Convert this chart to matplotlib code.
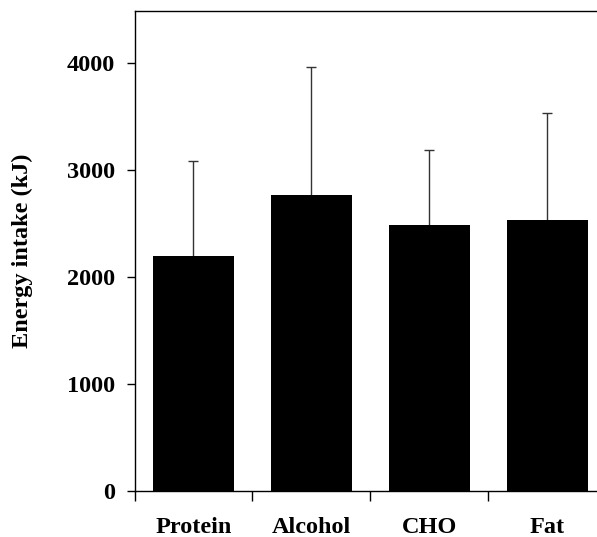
import matplotlib.pyplot as plt
import numpy as np

# mean energy intake per macronutrient condition, with upper SD
categories = ["Protein", "Alcohol", "CHO", "Fat"]
mean_kj = [2200, 2770, 2490, 2535]
upper_kj = [3090, 3965, 3190, 3540]
sd_kj = [u - m for u, m in zip(upper_kj, mean_kj)]
y_ticks = [0, 1000, 2000, 3000, 4000]

plt.rcParams["font.family"] = ["Liberation Serif", "DejaVu Serif"]
plt.rcParams["font.weight"] = "bold"

fig = plt.figure(figsize=(5.97, 5.37), dpi=100)
ax = fig.add_axes([0.2253, 0.0862, 0.7747, 0.8933])

x = np.arange(len(categories))

# bars first, then only the upper half of each error bar
ax.bar(x, mean_kj, width=0.68, color="black", zorder=2)
eb = ax.errorbar(x, mean_kj, yerr=[np.zeros(len(sd_kj)), sd_kj], fmt="none",
                 ecolor="#333333", elinewidth=1.0, capsize=3.3, capthick=1.0, zorder=1)
eb[1][0].set_visible(False)  # no cap on the zero-length lower side

ax.set_xlim(-0.496, 3.42)
ax.set_ylim(0, 4490)

ax.set_yticks(y_ticks)
ax.set_yticklabels([str(v) for v in y_ticks], fontsize=17.5, fontweight="bold")
ax.tick_params(axis="y", direction="out", length=6, width=1, pad=8)

# category names centred under bars, tick marks between the bars
ax.set_xticks(x)
ax.set_xticklabels(categories, fontsize=17.5, fontweight="bold")
ax.tick_params(axis="x", which="major", length=0, pad=19)
ax.set_xticks(np.arange(-0.5, 3.0, 1.0), minor=True)
ax.tick_params(axis="x", which="minor", direction="out", length=7, width=1)

ax.set_ylabel("Energy intake (kJ)", fontsize=17.5, fontweight="bold")
ax.yaxis.set_label_coords(-0.22, 0.5)

ax.spines["right"].set_visible(False)
for side in ["left", "top", "bottom"]:
    ax.spines[side].set_linewidth(1.0)

fig.savefig("out.png", dpi=100)
